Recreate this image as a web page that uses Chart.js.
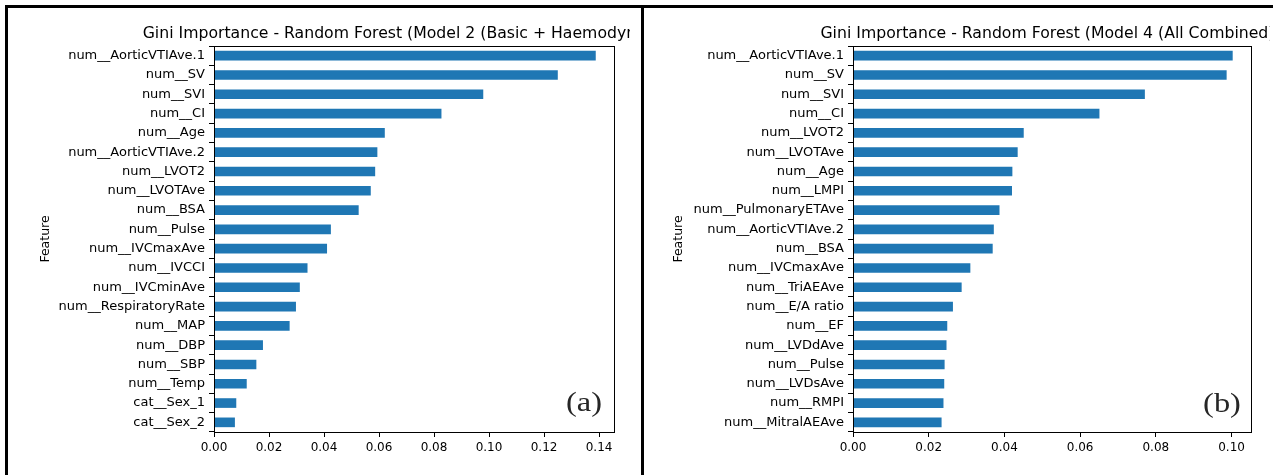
<!DOCTYPE html>
<html>
<head>
<meta charset="utf-8">
<script src="https://cdn.jsdelivr.net/npm/chart.js@4.4.0/dist/chart.umd.min.js"></script>
<style>
  html, body { margin: 0; padding: 0; background: #fff; }
  #wrap { position: relative; width: 1273px; height: 475px; overflow: hidden; }
  .rule { position: absolute; background: #000; }
  .panel { position: absolute; top: 8px; height: 467px; }
</style>
</head>
<body>
<div id="wrap">
  <div class="panel" style="left:8px;width:622px"><canvas id="chartA"></canvas></div>
  <div class="panel" style="left:644px;width:626px"><canvas id="chartB"></canvas></div>
  <div class="rule" style="left:5px;top:5px;width:1268px;height:3px"></div>
  <div class="rule" style="left:5px;top:5px;width:3px;height:470px"></div>
  <div class="rule" style="left:641px;top:5px;width:3px;height:470px"></div>
</div>
<script>
// panel (a) - Model 2
const labelsA = ['num__AorticVTIAve.1', 'num__SV', 'num__SVI', 'num__CI', 'num__Age',
  'num__AorticVTIAve.2', 'num__LVOT2', 'num__LVOTAve', 'num__BSA', 'num__Pulse',
  'num__IVCmaxAve', 'num__IVCCI', 'num__IVCminAve', 'num__RespiratoryRate', 'num__MAP',
  'num__DBP', 'num__SBP', 'num__Temp', 'cat__Sex_1', 'cat__Sex_2'];
const valuesA = [0.1388, 0.1250, 0.0979, 0.0827, 0.0621, 0.0594, 0.0586, 0.0570, 0.0526, 0.0425,
  0.0411, 0.0340, 0.0312, 0.0298, 0.0275, 0.0178, 0.0154, 0.0119, 0.0081, 0.0076];
const ticksA = [0, 0.02, 0.04, 0.06, 0.08, 0.10, 0.12, 0.14];

// panel (b) - Model 4
const labelsB = ['num__AorticVTIAve.1', 'num__SV', 'num__SVI', 'num__CI', 'num__LVOT2',
  'num__LVOTAve', 'num__Age', 'num__LMPI', 'num__PulmonaryETAve', 'num__AorticVTIAve.2',
  'num__BSA', 'num__IVCmaxAve', 'num__TriAEAve', 'num__E/A ratio', 'num__EF',
  'num__LVDdAve', 'num__Pulse', 'num__LVDsAve', 'num__RMPI', 'num__MitralAEAve'];
const valuesB = [0.1003, 0.0987, 0.0771, 0.0651, 0.0451, 0.0435, 0.0421, 0.0420, 0.0387, 0.0372,
  0.0369, 0.0310, 0.0287, 0.0264, 0.0249, 0.0247, 0.0242, 0.0241, 0.0239, 0.0234];
const ticksB = [0, 0.02, 0.04, 0.06, 0.08, 0.10];

const barColor = '#1f77b4';
const font = 'DejaVu Sans';

// box, title and panel tag
const decor = {
  id: 'decor',
  afterDraw(chart, args, o) {
    const { ctx, chartArea: a } = chart;
    ctx.save();
    ctx.strokeStyle = '#000';
    ctx.lineWidth = 1;
    ctx.strokeRect(a.left + 0.5, a.top + 0.5, a.right - a.left - 1, a.bottom - a.top);

    ctx.fillStyle = '#000';
    ctx.font = '15.7px "' + font + '"';
    ctx.textAlign = 'center';
    ctx.textBaseline = 'middle';
    ctx.fillText(o.title, (a.left + a.right) / 2 + o.titleShift, 25.5);

    ctx.translate(o.tagX, o.tagY);
    ctx.scale(1.2, 1);
    ctx.fillStyle = '#262626';
    ctx.font = '27px "Liberation Serif"';
    ctx.fillText(o.tag, 0, 0);
    ctx.restore();
  }
};

function makeChart(id, labels, values, ticks, xMax, cfg) {
  return new Chart(document.getElementById(id), {
    type: 'bar',
    data: {
      labels: labels,
      datasets: [{
        data: values,
        backgroundColor: barColor,
        barPercentage: 0.5,
        categoryPercentage: 1.0
      }]
    },
    options: {
      indexAxis: 'y',
      responsive: true,
      maintainAspectRatio: false,
      animation: false,
      layout: { padding: { top: 38, right: cfg.right, left: 0, bottom: 0 } },
      plugins: {
        legend: { display: false },
        tooltip: { enabled: false },
        decor: { title: cfg.title, titleShift: cfg.titleShift, tag: cfg.tag, tagX: cfg.tagX, tagY: cfg.tagY }
      },
      scales: {
        x: {
          min: 0,
          max: xMax,
          afterBuildTicks: s => { s.ticks = ticks.map(v => ({ value: v })); },
          afterFit: s => { s.height = 43; },
          grid: { drawOnChartArea: false, drawTicks: true, tickLength: 5, color: '#000' },
          border: { display: false },
          ticks: {
            color: '#000',
            padding: 4,
            maxRotation: 0,
            font: { family: font, size: 12 },
            callback: v => v.toFixed(2)
          }
        },
        y: {
          afterFit: s => { s.width = cfg.left; },
          grid: { drawOnChartArea: false, drawTicks: true, tickLength: 5, color: '#000' },
          border: { display: false },
          title: {
            display: true,
            text: 'Feature',
            color: '#000',
            font: { family: font, size: 12.5 },
            padding: { top: cfg.featurePad, bottom: 0 }
          },
          ticks: {
            color: '#000',
            padding: 4,
            font: { family: font, size: 13 }
          }
        }
      }
    },
    plugins: [decor]
  });
}

makeChart('chartA', labelsA, valuesA, ticksA, 0.1458, {
  left: 206, right: 15, featurePad: 30, titleShift: 0,
  title: 'Gini Importance - Random Forest (Model 2 (Basic + Haemodynamic))',
  tag: '(a)', tagX: 576, tagY: 396
});

makeChart('chartB', labelsB, valuesB, ticksB, 0.1054, {
  left: 209, right: 18, featurePad: 27, titleShift: -2,
  title: 'Gini Importance - Random Forest (Model 4 (All Combined))',
  tag: '(b)', tagX: 578, tagY: 397
});
</script>
</body>
</html>
